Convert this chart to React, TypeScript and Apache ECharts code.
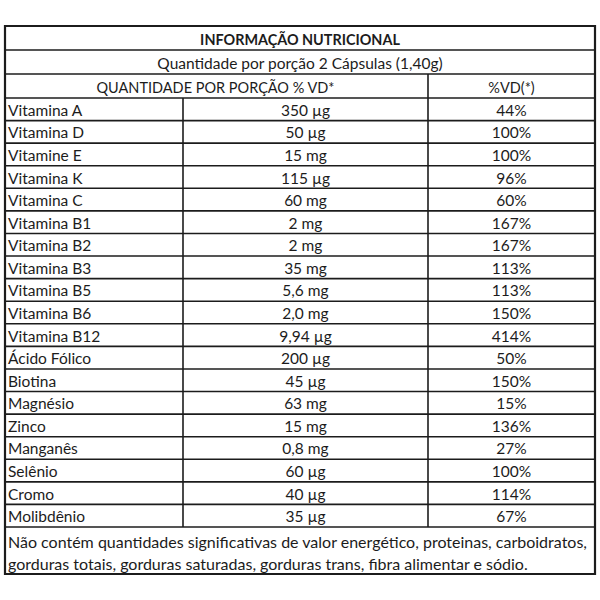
import React, { useEffect, useRef } from "react";
import * as echarts from "echarts";

const title = "INFORMAÇÃO NUTRICIONAL";
const subtitle = "Quantidade por porção 2 Cápsulas (1,40g)";
const headerLeft = "QUANTIDADE POR PORÇÃO % VD*";
const headerRight = "%VD(*)";
const nutrients = ["Vitamina A", "Vitamina D", "Vitamine E", "Vitamina K", "Vitamina C", "Vitamina B1", "Vitamina B2", "Vitamina B3", "Vitamina B5", "Vitamina B6", "Vitamina B12", "Ácido Fólico", "Biotina", "Magnésio", "Zinco", "Manganês", "Selênio", "Cromo", "Molibdênio"];
const amounts = ["350 µg", "50 µg", "15 mg", "115 µg", "60 mg", "2 mg", "2 mg", "35 mg", "5,6 mg", "2,0 mg", "9,94 µg", "200 µg", "45 µg", "63 mg", "15 mg", "0,8 mg", "60 µg", "40 µg", "35 µg"];
const vdValues = ["44%", "100%", "100%", "96%", "60%", "167%", "167%", "113%", "113%", "150%", "414%", "50%", "150%", "15%", "136%", "27%", "100%", "114%", "67%"];
const footnote = [
  "Não contém quantidades significativas de valor energético, proteinas, carboidratos,",
  "gorduras totais, gorduras saturadas, gorduras trans, fibra alimentar e sódio.",
];

export default function App() {
  const ref = useRef<HTMLDivElement>(null);
  useEffect(() => {
    if (!ref.current) return;
    const chart = echarts.init(ref.current, undefined, { renderer: "svg" });
    const L = 5, R = 595, T = 26;
    const c1 = 183, c2 = 428;
    const hdr = [26, 50, 74, 98];
    const rowTop = 98;
    const rowH = (527 - 98) / nutrients.length;
    const dataBottom = rowTop + rowH * nutrients.length;
    const B = 574;
    const font = "Lato";
    const fs = 15.5;
    const col = "#1c1c1c";
    const els: any[] = [];
    const line = (x1: number, y1: number, x2: number, y2: number, w = 1.6) =>
      els.push({ type: "line", shape: { x1, y1, x2, y2 }, style: { stroke: col, lineWidth: w } });
    const text = (t: string, x: number, y: number, align: string, bold = false, size = fs) =>
      els.push({
        type: "text", x, y,
        style: { text: t, fill: col, fontFamily: font, fontSize: size, fontWeight: bold ? "bold" : "normal", align, verticalAlign: "middle" },
      });
    for (let i = 1; i < hdr.length; i++) line(L, hdr[i], R, hdr[i]);
    for (let i = 1; i <= nutrients.length; i++) {
      const y = rowTop + rowH * i;
      line(L, y, R, y);
    }
    line(c1, rowTop, c1, dataBottom);
    line(c2, hdr[2], c2, dataBottom);
    els.push({ type: "rect", shape: { x: L, y: T, width: R - L, height: B - T }, style: { fill: "none", stroke: col, lineWidth: 2.2 } });

    text(title, 300, 39, "center", true, 14.4);
    text(subtitle, 300, 63, "center", false, 15.5);
    text(headerLeft, (L + c2) / 2 - 1, 87, "center", false, 14.5);
    text(headerRight, (c2 + R) / 2, 87, "center", false, 14.5);
    nutrients.forEach((n, i) => {
      const y = rowTop + rowH * (i + 0.5) + 0.5;
      text(n, 8, y, "left");
      text(amounts[i], (c1 + c2) / 2, y, "center");
      text(vdValues[i], (c2 + R) / 2, y, "center");
    });
    text(footnote[0], 8, 541, "left", false, 16);
    text(footnote[1], 8, 563, "left", false, 16);

    chart.setOption({
      animation: false,
      backgroundColor: "#ffffff",
      graphic: { elements: els },
    });
    return () => chart.dispose();
  }, []);
  return <div ref={ref} style={{ position: "absolute", left: 0, top: 0, width: 600, height: 600 }} />;
}
